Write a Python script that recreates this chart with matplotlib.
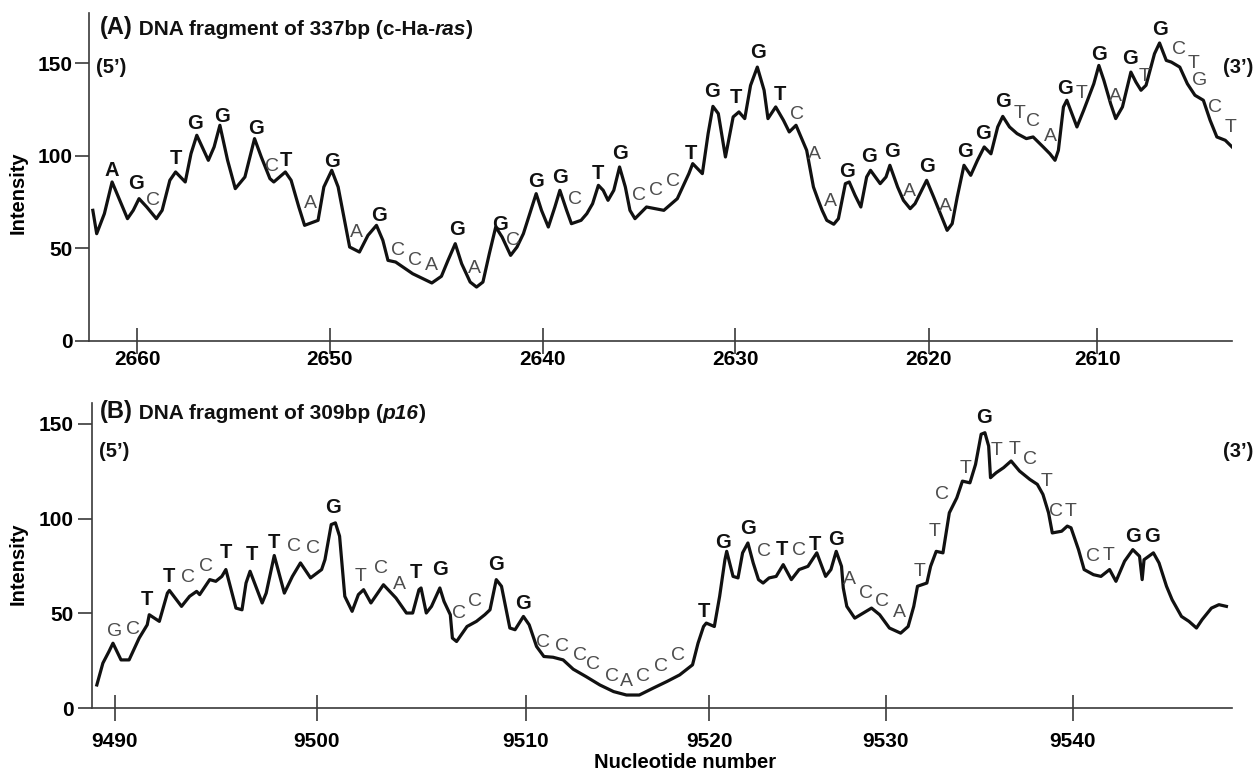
"""
Two-panel intensity trace of DNA fragments (c-Ha-ras and p16) with base calls.
"""
import numpy as np
import matplotlib
matplotlib.use("Agg")
import matplotlib.pyplot as plt

plt.rcParams["font.family"] = ["Liberation Sans", "DejaVu Sans"]

# ── Panel A: 337 bp fragment (c-Ha-ras) ──────────────────────────────────────
A_NT = [2662.3, 2662.1, 2661.7, 2661.3, 2660.9, 2660.5, 2660.2, 2659.9, 2659.5, 2659.0,
        2658.7, 2658.3, 2658.0, 2657.5, 2657.2, 2656.9, 2656.3, 2656.0, 2655.7, 2655.3,
        2654.9, 2654.4, 2653.9, 2653.55, 2653.1, 2652.9, 2652.3, 2652.0, 2651.6, 2651.3,
        2650.6, 2650.3, 2649.9, 2649.6, 2649.3, 2649.06, 2648.6, 2648.2, 2647.8, 2647.5,
        2647.26, 2646.9, 2646.1, 2645.2, 2644.75, 2644.44, 2644.1, 2643.8, 2643.4, 2643.1,
        2642.8, 2642.5, 2642.2, 2641.9, 2641.5, 2641.2, 2640.9, 2640.6, 2640.3, 2640.05,
        2639.7, 2639.36, 2639.1, 2638.75, 2638.5, 2638.0, 2637.7, 2637.4, 2637.1, 2636.85,
        2636.6, 2636.3, 2636.0, 2635.7, 2635.46, 2635.2, 2634.6, 2633.7, 2633.0, 2632.4,
        2632.2, 2631.7, 2631.4, 2631.15, 2630.87, 2630.5, 2630.1, 2629.8, 2629.5, 2629.2,
        2628.85, 2628.5, 2628.3, 2627.9, 2627.5, 2627.2, 2626.85, 2626.3, 2625.95, 2625.7,
        2625.5, 2625.26, 2624.9, 2624.66, 2624.3, 2624.1, 2623.8, 2623.5, 2623.2, 2623.0,
        2622.5, 2622.2, 2622.0, 2621.6, 2621.3, 2620.95, 2620.7, 2620.1, 2619.7, 2619.3,
        2618.9, 2618.6, 2618.3, 2617.9, 2617.5, 2617.1, 2616.7, 2616.3, 2615.9, 2615.6,
        2615.2, 2614.75, 2614.2, 2613.8, 2613.2, 2612.8, 2612.5, 2612.3, 2612.0, 2611.8,
        2611.2, 2610.8, 2610.2, 2609.9, 2609.6, 2609.2, 2608.9, 2608.5, 2608.0, 2607.7,
        2607.4, 2607.1, 2606.6, 2606.3, 2605.9, 2605.6, 2605.1, 2604.65, 2604.2, 2603.7,
        2603.3, 2602.9, 2602.4, 2602.0]
A_INT = [70.5, 57.9, 68.7, 85.8, 75.9, 66.0, 70.5, 76.8, 72.3, 66.0,
         70.5, 86.7, 91.2, 85.8, 101.1, 111.0, 97.5, 104.7, 116.4, 97.5,
         82.2, 88.5, 109.2, 99.3, 87.6, 85.8, 91.2, 86.7, 72.3, 62.4,
         65.1, 83.1, 92.1, 83.1, 65.1, 50.7, 48.0, 57.0, 62.4, 54.3,
         43.5, 42.6, 36.3, 31.3, 34.9, 43.5, 52.5, 41.7, 31.8, 29.1,
         31.8, 47.1, 61.5, 56.1, 46.2, 50.7, 57.9, 68.7, 79.5, 70.5,
         61.5, 72.3, 81.3, 70.5, 63.3, 65.1, 68.7, 74.1, 84.0, 81.3,
         75.9, 81.3, 93.9, 83.1, 70.5, 66.0, 72.3, 70.5, 76.8, 90.3,
         95.7, 90.3, 111.9, 126.6, 122.7, 99.3, 120.9, 123.6, 120.0, 137.9,
         147.8, 135.3, 120.0, 126.3, 119.1, 112.8, 116.4, 102.9, 83.1, 75.9,
         70.5, 65.1, 63.0, 66.0, 84.9, 85.8, 78.6, 72.3, 88.5, 92.1,
         84.9, 88.5, 94.8, 83.1, 75.9, 71.4, 74.1, 86.7, 77.7, 68.7,
         59.7, 63.3, 77.7, 94.8, 89.4, 97.5, 104.7, 101.0, 115.5, 121.2,
         115.5, 111.9, 109.2, 110.1, 104.7, 101.0, 97.5, 102.9, 126.3, 129.9,
         115.5, 124.5, 138.8, 148.7, 140.6, 128.0, 120.0, 126.3, 145.1, 139.7,
         135.3, 138.0, 155.0, 160.8, 151.4, 150.5, 147.8, 138.8, 132.6, 129.9,
         119.1, 110.1, 108.3, 104.7]

# base calls: upper case = major peak (bold), lower case = minor call
A_SEQ = "AGcTGGGcTaGaGccaGaGcGGcTGcccTGTGTcaaGGGaGaGGGtcaGtGaGtGctgct"
A_SEQ_NT = [2661.3, 2660.05, 2659.15, 2658.0, 2657.0, 2655.6, 2653.8, 2653.0, 2652.25, 2651.0,
            2649.9, 2648.75, 2647.7, 2646.8, 2646.0, 2645.2, 2644.0, 2643.2, 2642.0, 2641.4,
            2640.3, 2639.1, 2638.3, 2637.1, 2636.0, 2635.0, 2634.1, 2633.2, 2632.3, 2631.2,
            2629.95, 2628.8, 2627.7, 2626.8, 2625.9, 2625.05, 2624.2, 2623.1, 2621.9, 2621.0,
            2620.1, 2619.0, 2617.85, 2616.75, 2615.6, 2614.6, 2613.8, 2612.75, 2611.9, 2610.9,
            2609.9, 2608.9, 2608.05, 2607.2, 2606.3, 2605.15, 2604.3, 2603.9, 2603.0, 2602.1]
A_SEQ_Y = [92.1, 84.9, 75.9, 98.4, 117.3, 120.9, 114.6, 93.9, 97.5, 74.1,
           96.6, 58.8, 67.8, 48.9, 43.5, 40.8, 60.1, 39.0, 63.0, 54.3,
           86.3, 88.1, 76.3, 90.6, 101.4, 78.6, 81.3, 85.8, 101.4, 134.4,
           131.3, 155.9, 133.1, 122.3, 100.7, 75.0, 91.2, 99.3, 102.0, 80.9,
           93.9, 72.3, 102.0, 111.9, 129.0, 122.7, 118.7, 110.1, 136.2, 133.5,
           154.7, 131.7, 152.3, 142.8, 168.0, 157.2, 149.6, 140.3, 125.9, 115.1]
A_TICKS = [2660, 2650, 2640, 2630, 2620, 2610]

# ── Panel B: 309 bp fragment (p16) ───────────────────────────────────────────
B_NT = [9489.1, 9489.4, 9489.7, 9489.9, 9490.3, 9490.7, 9491.2, 9491.6, 9491.7, 9492.2,
        9492.6, 9492.7, 9493.3, 9493.7, 9494.05, 9494.2, 9494.7, 9495.0, 9495.3, 9495.5,
        9496.0, 9496.3, 9496.5, 9496.7, 9497.3, 9497.5, 9497.9, 9498.4, 9498.8, 9499.2,
        9499.7, 9500.24, 9500.4, 9500.7, 9500.9, 9501.1, 9501.35, 9501.7, 9502.0, 9502.25,
        9502.6, 9503.2, 9503.8, 9504.3, 9504.6, 9504.9, 9505.0, 9505.25, 9505.5, 9505.9,
        9506.1, 9506.4, 9506.5, 9506.7, 9507.2, 9507.65, 9508.05, 9508.3, 9508.6, 9508.85,
        9509.25, 9509.5, 9509.9, 9510.2, 9510.6, 9511.0, 9511.5, 9512.05, 9512.6, 9513.3,
        9514.05, 9514.8, 9515.5, 9516.2, 9516.95, 9517.7, 9518.4, 9519.1, 9519.4, 9519.7,
        9519.85, 9520.3, 9520.6, 9520.9, 9521.0, 9521.36, 9521.64, 9521.9, 9522.2, 9522.5,
        9522.8, 9523.06, 9523.4, 9523.8, 9524.2, 9524.66, 9525.1, 9525.6, 9526.1, 9526.6,
        9526.9, 9527.2, 9527.5, 9527.6, 9527.8, 9528.25, 9528.9, 9529.2, 9529.66, 9530.2,
        9530.8, 9531.2, 9531.5, 9531.7, 9532.2, 9532.4, 9532.7, 9533.06, 9533.4, 9533.8,
        9534.1, 9534.5, 9534.8, 9535.1, 9535.3, 9535.5, 9535.6, 9535.9, 9536.3, 9536.7,
        9537.15, 9537.7, 9538.1, 9538.4, 9538.7, 9538.9, 9539.4, 9539.7, 9539.9, 9540.3,
        9540.6, 9541.1, 9541.5, 9541.96, 9542.3, 9542.76, 9543.2, 9543.56, 9543.7, 9543.8,
        9544.3, 9544.6, 9545.0, 9545.3, 9545.8, 9546.2, 9546.6, 9546.9, 9547.4, 9547.8,
        9548.2]
B_INT = [12.3, 23.8, 29.9, 34.3, 25.5, 25.5, 37.0, 44.0, 49.3, 45.8,
         60.7, 62.1, 53.7, 59.0, 61.6, 59.9, 67.8, 66.9, 69.5, 73.1,
         52.8, 51.9, 66.0, 72.2, 55.5, 60.7, 80.5, 60.7, 69.5, 76.6,
         68.7, 73.1, 78.3, 96.8, 97.7, 90.7, 59.0, 51.1, 59.9, 62.5,
         55.5, 65.1, 58.1, 50.2, 50.2, 62.5, 63.4, 50.2, 53.7, 63.4,
         56.3, 49.3, 37.0, 35.2, 43.1, 45.8, 49.3, 51.9, 67.8, 64.3,
         42.3, 41.4, 48.4, 44.0, 32.6, 27.3, 26.9, 25.5, 20.6, 16.7,
         12.3, 8.8, 7.0, 7.0, 10.6, 14.1, 17.6, 22.9, 34.3, 43.1,
         44.9, 43.1, 59.0, 78.3, 82.7, 69.5, 68.7, 81.9, 87.1, 76.6,
         67.8, 66.0, 68.7, 69.5, 75.7, 67.8, 73.1, 74.8, 81.9, 69.5,
         73.1, 82.7, 74.8, 63.4, 53.7, 47.5, 51.1, 52.8, 49.3, 42.3,
         39.6, 43.1, 53.7, 64.3, 66.0, 74.8, 82.7, 81.9, 103.0, 110.9,
         119.7, 118.8, 128.5, 144.4, 145.2, 138.2, 121.5, 124.1, 126.8, 130.3,
         125.0, 120.6, 118.0, 112.7, 103.0, 92.4, 93.3, 96.0, 95.1, 83.6,
         73.1, 70.4, 69.5, 73.1, 66.9, 77.5, 83.6, 80.1, 67.8, 78.3,
         81.9, 76.6, 64.3, 57.2, 48.4, 45.8, 42.3, 46.7, 52.8, 54.6,
         53.7]

B_SEQ = "gcTTccTTTccGtcaTGccGGcccccacccTGGcTcTGaccattctGttctctctGG"
B_SEQ_NT = [9490.0, 9490.9, 9491.6, 9492.7, 9493.6, 9494.5, 9495.5, 9496.8, 9497.9, 9498.9,
            9499.8, 9500.8, 9502.1, 9503.1, 9503.95, 9504.75, 9505.9, 9506.8, 9507.6, 9508.6,
            9509.9, 9510.96, 9512.0, 9512.96, 9513.7, 9514.7, 9515.5, 9516.4, 9517.4, 9518.3,
            9519.7, 9520.8, 9522.2, 9523.1, 9524.1, 9525.1, 9526.0, 9527.2, 9527.96, 9528.9,
            9529.8, 9530.75, 9531.8, 9532.6, 9533.0, 9534.25, 9535.25, 9535.9, 9536.9, 9537.7,
            9538.6, 9539.1, 9539.9, 9541.1, 9541.9, 9543.2, 9544.2]
B_SEQ_Y = [40.5, 41.4, 57.2, 69.5, 68.7, 74.8, 81.9, 81.0, 87.1, 85.4,
           84.0, 105.6, 69.5, 73.9, 65.1, 71.7, 73.1, 50.2, 56.3, 75.7,
           55.1, 34.7, 32.6, 27.6, 22.9, 16.7, 14.1, 16.7, 22.0, 27.6,
           51.1, 87.1, 94.5, 82.7, 83.6, 83.3, 86.5, 88.9, 68.1, 60.4,
           56.3, 50.5, 72.2, 93.3, 112.7, 126.2, 153.2, 135.6, 136.4, 131.2,
           119.7, 103.9, 103.9, 79.8, 80.5, 90.3, 90.3]
B_TICKS = [9490, 9500, 9510, 9520, 9530, 9540]

# The trace axis of the original is not linear in bp: trace position of each
# labelled tick, used to build a piecewise-linear x scale.
A_TICK_TRACE = [137.7, 330.0, 542.7, 735.0, 928.3, 1096.7]
B_TICK_TRACE = [115.0, 316.7, 525.7, 709.3, 886.0, 1073.3]

INK = "#111111"
MINOR = "#4d4d4d"
AXIS = "#3a3a3a"


def warp(ticks, trace):
    t = np.asarray(ticks, float)
    p = np.asarray(trace, float)
    o = np.argsort(t)
    t, p = t[o], p[o]
    lo = (p[1] - p[0]) / (t[1] - t[0])
    hi = (p[-1] - p[-2]) / (t[-1] - t[-2])
    t = np.r_[t[0] - 1000, t, t[-1] + 1000]
    p = np.r_[p[0] - 1000 * lo, p, p[-1] + 1000 * hi]
    if p[-1] < p[0]:
        p = -p
    return (lambda x: np.interp(x, t, p)), (lambda y: np.interp(y, p, t))


def setup(ax, ticks, trace, xlim, ylim, tick_len, tick_pad, ytick_pad):
    ax.set_xscale("function", functions=warp(ticks, trace))
    ax.set_xlim(*xlim)
    ax.set_ylim(*ylim)
    ax.set_xticks(ticks)
    ax.set_xticklabels([str(t) for t in ticks])
    ax.set_yticks([0, 50, 100, 150])
    for s in ("top", "right"):
        ax.spines[s].set_visible(False)
    for s in ("left", "bottom"):
        ax.spines[s].set_color(AXIS)
        ax.spines[s].set_linewidth(1.2)
    ax.tick_params(axis="x", direction="inout", length=tick_len, width=1.2,
                   color=AXIS, pad=tick_pad, labelsize=15)
    ax.tick_params(axis="y", direction="out", length=10, width=1.2,
                   color=AXIS, pad=ytick_pad, labelsize=15)
    ax.minorticks_off()
    for lab in ax.get_xticklabels() + ax.get_yticklabels():
        lab.set_fontweight("bold")
    ax.set_ylabel("Intensity", fontsize=14.5, fontweight="bold")


def bases(ax, seq, xs, ys):
    for ch, x, y in zip(seq, xs, ys):
        major = ch.isupper()
        ax.text(x, y, ch.upper(), ha="center", va="center", zorder=4,
                fontsize=14.5 if major else 14,
                fontweight="bold" if major else "normal",
                color=INK if major else MINOR)


def title(ax, x, y, tag, parts):
    prev = ax.text(x, y, tag, transform=ax.transAxes, ha="left", va="center",
                   fontsize=17, fontweight="bold", color=INK)
    for s, style in parts:
        prev = ax.annotate(s, xy=(1, 0), xycoords=prev, ha="left", va="bottom",
                           fontsize=15, fontweight="bold", fontstyle=style,
                           color=INK)


def ends(ax, y):
    ax.text(0.006, y, "(5\u2019)", transform=ax.transAxes, ha="left",
            va="center", fontsize=14.5, fontweight="bold", color=INK)
    ax.text(1.005, y, "(3\u2019)", transform=ax.transAxes, ha="center",
            va="center", fontsize=14.5, fontweight="bold", color=INK,
            clip_on=False)


fig = plt.figure(figsize=(12.55, 7.73), dpi=100)
fig.patch.set_facecolor("white")
axA = fig.add_axes([0.0709, 0.5589, 0.9108, 0.4243])
axB = fig.add_axes([0.0733, 0.0837, 0.9084, 0.3953])

# ── Panel A ──────────────────────────────────────────────────────────────────
setup(axA, A_TICKS, A_TICK_TRACE, (2662.5, 2602.0), (0, 177), 19, -3.0, 2)
axA.plot(A_NT, A_INT, color=INK, lw=2.3, zorder=3)
bases(axA, A_SEQ, A_SEQ_NT, A_SEQ_Y)
title(axA, 0.0096, 0.957, "(A)",
      [(" DNA fragment of 337bp (c-Ha-", "normal"), ("ras", "italic"), (")", "normal")])
ends(axA, 0.834)
axA.yaxis.set_label_coords(-0.0534, 0.453)

# ── Panel B ──────────────────────────────────────────────────────────────────
setup(axB, B_TICKS, B_TICK_TRACE, (9488.86, 9548.5), (0, 161), 19, 7.5, 3)
axB.plot(B_NT, B_INT, color=INK, lw=2.3, zorder=3)
bases(axB, B_SEQ, B_SEQ_NT, B_SEQ_Y)
title(axB, 0.007, 0.9706, "(B)",
      [(" DNA fragment of 309bp (", "normal"), ("p16", "italic"), (")", "normal")])
ends(axB, 0.84)
axB.yaxis.set_label_coords(-0.0561, 0.474)
axB.set_xlabel("Nucleotide number", fontsize=14.5, fontweight="bold")
axB.xaxis.set_label_coords(0.52, -0.146)

fig.savefig("out.png", dpi=100, facecolor="white")
